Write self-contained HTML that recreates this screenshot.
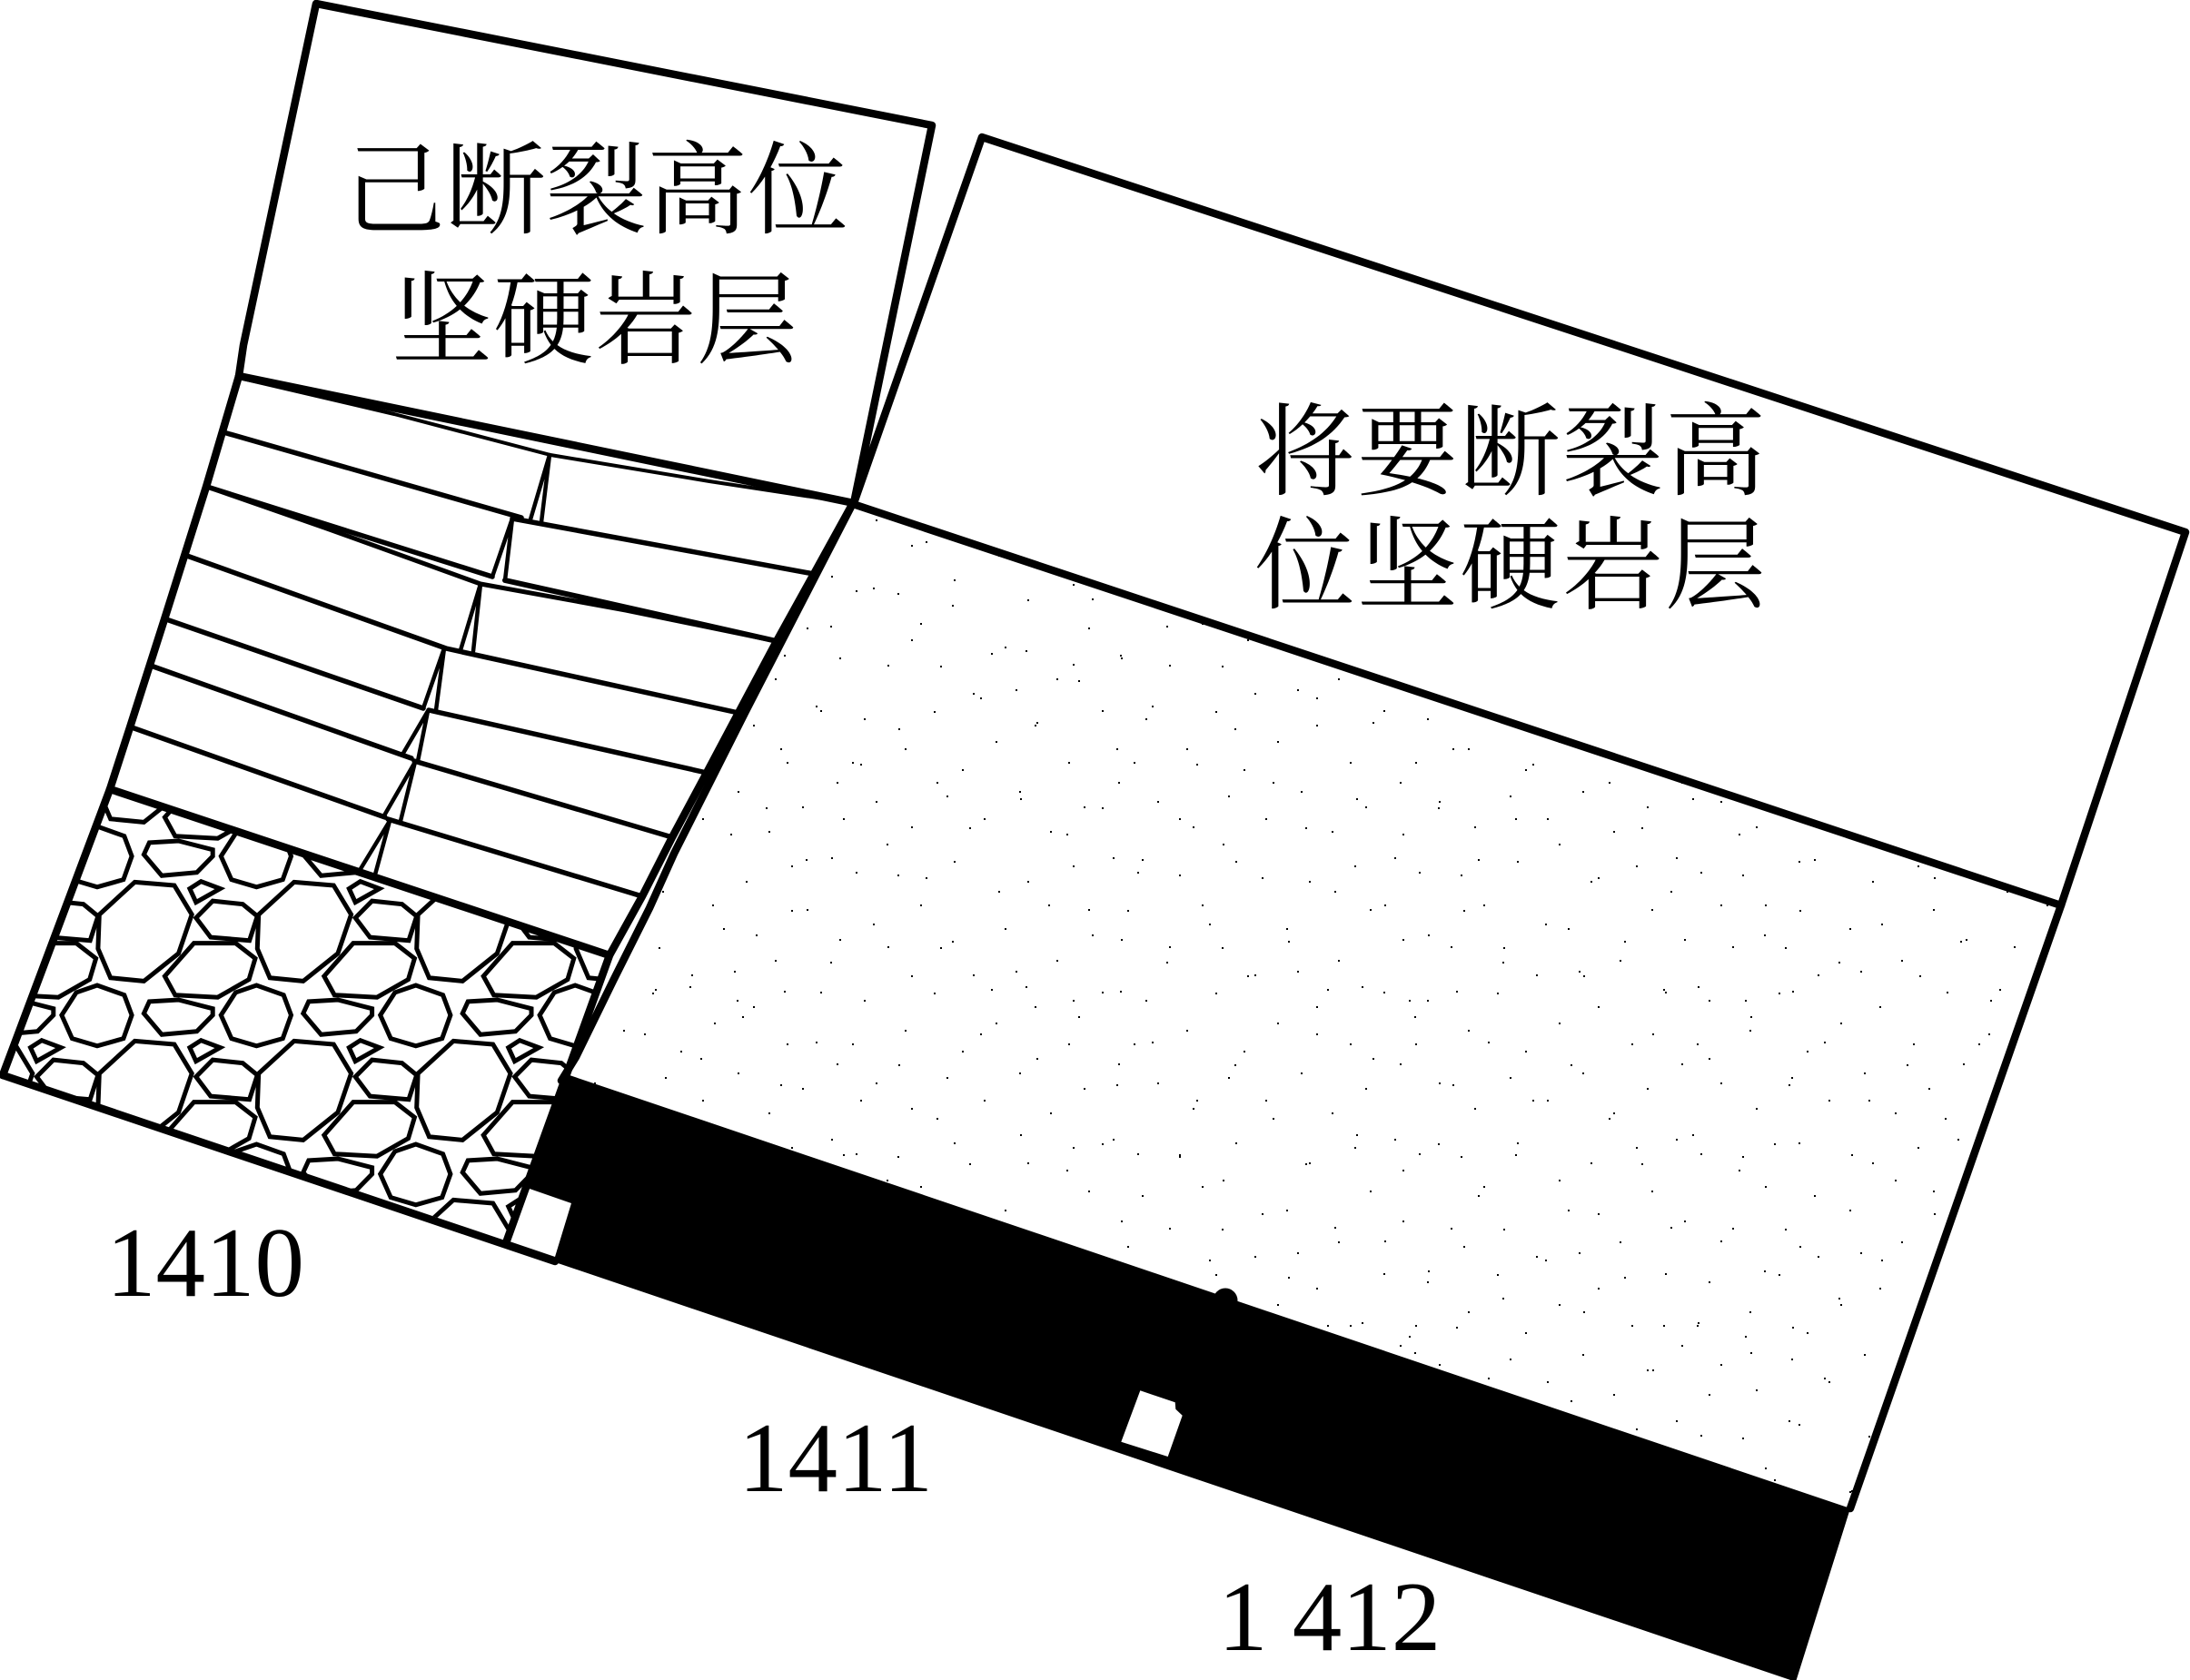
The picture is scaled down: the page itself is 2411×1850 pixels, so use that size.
<!DOCTYPE html>
<html><head><meta charset="utf-8"><style>
html,body{margin:0;padding:0;background:#fff}
svg{display:block}
.z{font-family:"Liberation Serif","Noto Serif CJK SC",serif;font-size:111px;fill:#000}
.n{font-family:"Liberation Serif",serif;font-size:109px;fill:#000}
</style></head><body>
<svg xmlns="http://www.w3.org/2000/svg" xmlns:xlink="http://www.w3.org/1999/xlink" width="2411" height="1850" viewBox="0 0 2411 1850">
<defs>
<pattern id="d1" patternUnits="userSpaceOnUse" width="310" height="310">
<path fill="#000" d="M12 30h2v2h-2zM47 112h2v2h-2zM83 66h2v2h-2zM120 18h2v2h-2zM141 143h2v2h-2zM176 92h2v2h-2zM201 40h2v2h-2zM233 127h2v2h-2zM268 71h2v2h-2zM295 14h2v2h-2zM21 171h2v2h-2zM66 204h2v2h-2zM98 163h2v2h-2zM129 227h2v2h-2zM166 196h2v2h-2zM209 178h2v2h-2zM246 219h2v2h-2zM283 162h2v2h-2zM34 262h2v2h-2zM73 290h2v2h-2zM112 256h2v2h-2zM153 281h2v2h-2zM192 251h2v2h-2zM226 295h2v2h-2zM263 268h2v2h-2zM301 241h2v2h-2zM8 219h2v2h-2zM58 33h2v2h-2zM105 113h2v2h-2zM188 139h2v2h-2zM251 23h2v2h-2zM304 104h2v2h-2z"/>
</pattern>
<pattern id="d2" patternUnits="userSpaceOnUse" width="370" height="370">
<path fill="#000" d="M31 55h2v2h-2zM77 9h2v2h-2zM119 84h2v2h-2zM158 37h2v2h-2zM207 101h2v2h-2zM249 62h2v2h-2zM291 121h2v2h-2zM339 28h2v2h-2zM13 139h2v2h-2zM64 178h2v2h-2zM103 149h2v2h-2zM147 206h2v2h-2zM188 161h2v2h-2zM236 189h2v2h-2zM279 226h2v2h-2zM327 171h2v2h-2zM359 241h2v2h-2zM44 256h2v2h-2zM92 289h2v2h-2zM131 262h2v2h-2zM174 319h2v2h-2zM221 277h2v2h-2zM263 334h2v2h-2zM308 296h2v2h-2zM351 349h2v2h-2zM19 346h2v2h-2zM71 361h2v2h-2zM123 351h2v2h-2z"/>
</pattern>
<g id="t" fill="none" stroke="#000" stroke-width="5" stroke-linejoin="miter">
<polygon points="148.3,971.4 191.9,975 211.2,1007.1 196.5,1050 158.4,1080.4 121.7,1076.8 107.9,1044.6 109.3,1007.1"/>
<polygon points="208.9,978.6 221.3,970.7 242.4,978.6 215.8,993.6"/>
<polygon points="215.8,1010.7 234.2,992.1 267.2,995.7 283.3,1008.9 274.6,1035.7 231.9,1032.1"/>
<polygon points="181.4,1075 213.5,1038.6 259.4,1038.6 281,1055.4 274.1,1078.6 239.7,1098.2 192.8,1095.7"/>
<polygon points="243.3,1117.9 259.4,1092.9 282.4,1085 312.2,1095.7 320.5,1117.9 311.3,1143.6 282.4,1151.8 254.8,1143.6"/>
<polygon points="158.4,1116 164.4,1102.9 196.5,1101 234.2,1110.7 234.2,1117.9 216.7,1135.7 178.1,1139.3"/>
</g>
<clipPath id="gc"><polygon points="121,869 671,1052 558,1366 3,1184"/></clipPath>
</defs>
<rect width="2411" height="1850" fill="#fff"/>

<!-- stippled block -->
<polygon points="939,555 2269,997 2037,1661 627,1184" fill="url(#d1)"/>
<polygon points="939,555 2269,997 2037,1661 627,1184" fill="url(#d2)"/>

<!-- gravel -->
<g clip-path="url(#gc)">
<use xlink:href="#t" href="#t" transform="translate(-175.4,-175)"/>
<use xlink:href="#t" href="#t" transform="translate(0,-175)"/>
<use xlink:href="#t" href="#t" transform="translate(175.4,-175)"/>
<use xlink:href="#t" href="#t" transform="translate(350.8,-175)"/>
<use xlink:href="#t" href="#t" transform="translate(526.2,-175)"/>
<use xlink:href="#t" href="#t" transform="translate(-175.4,0)"/>
<use xlink:href="#t" href="#t"/>
<use xlink:href="#t" href="#t" transform="translate(175.4,0)"/>
<use xlink:href="#t" href="#t" transform="translate(350.8,0)"/>
<use xlink:href="#t" href="#t" transform="translate(526.2,0)"/>
<use xlink:href="#t" href="#t" transform="translate(-175.4,175)"/>
<use xlink:href="#t" href="#t" transform="translate(0,175)"/>
<use xlink:href="#t" href="#t" transform="translate(175.4,175)"/>
<use xlink:href="#t" href="#t" transform="translate(350.8,175)"/>
<use xlink:href="#t" href="#t" transform="translate(526.2,175)"/>
<use xlink:href="#t" href="#t" transform="translate(-175.4,350)"/>
<use xlink:href="#t" href="#t" transform="translate(0,350)"/>
<use xlink:href="#t" href="#t" transform="translate(175.4,350)"/>
<use xlink:href="#t" href="#t" transform="translate(350.8,350)"/>
</g>

<!-- black seam -->
<polygon points="620,1181 627,1184 2037,1661 1977,1852 558,1372 578,1310" fill="#000"/>
<polygon points="583,1309 629,1325 611,1384 558,1366" fill="#fff"/>
<polygon points="1255.3,1531.3 1293.7,1544.3 1294.3,1551.7 1301.7,1558.7 1285.7,1604 1234.3,1587.7" fill="#fff"/>
<circle cx="1349" cy="1432" r="13.5" fill="#000"/>

<g fill="none" stroke="#000" stroke-linejoin="round" stroke-linecap="round">
<!-- strata -->
<g stroke-width="5.5">
<polyline points="263,416 434,456 606,501 781,530 939,554" stroke-width="4"/>
<polyline points="246,476 574,570"/>
<polyline points="564,571 896,632"/>
<polyline points="228,536 542,635"/>
<polyline points="556,639 695,670 855,706" stroke-width="6"/>
<polyline points="228,536 357,581 529,643 689,672 855,706" stroke-width="5"/>
<polyline points="203,611 491,714 813,785"/>
<polyline points="183,682 466,780"/>
<polyline points="472,782 778,851"/>
<polyline points="166,733 453,835"/>
<polyline points="456,838 740,922"/>
<polyline points="145,801 424,900"/>
<polyline points="427,902 707,987"/>
</g>
<g stroke-width="4.5">
<polyline points="584,572 605,501 596,575"/>
<polyline points="542,635 564,571 556,639"/>
<polyline points="507,716 529,643 521,717"/>
<polyline points="466,780 489,714 480,782"/>
<polyline points="443,831 471,783 460,838"/>
<polyline points="423,898 457,839 441,904"/>
<polyline points="395,960 429,904 413,963"/>
</g>
<!-- outer boundaries -->
<g stroke-width="8.5">
<polyline points="263,414 268,380 348,4 1026,138 940,554"/>
<polyline points="940,554 1081,151 2406,586 2269,997 2037,1661"/>
<line x1="263" y1="414" x2="940" y2="554"/>
<polyline points="939,555 2269,997"/>
<polyline points="263,414 227,536 181,682 143,801 121,869 3,1184"/>
<polyline points="3,1184 611,1389"/>
<line x1="121" y1="869" x2="671" y2="1052"/>
<polyline points="939,554 896,632 855,706 813,785 778,851 740,922 707,987 671,1052 558,1366"/>
<polyline points="939,554 820,785 742,940 715,1000 675,1080 634,1164 618,1190"/>
</g>
</g>

<!-- labels -->
<text class="z" x="379" y="248">己断裂高位</text>
<text class="z" x="431" y="391" letter-spacing="1">坚硬岩层</text>
<text class="z" x="1381" y="536" letter-spacing="2">将要断裂高</text>
<text class="z" x="1381" y="661" letter-spacing="2">位坚硬岩层</text>
<text class="n" x="117" y="1427">1410</text>
<text class="n" x="813" y="1642">1411</text>
<text class="n" x="1341" y="1817">1 412</text>
</svg>
</body></html>
